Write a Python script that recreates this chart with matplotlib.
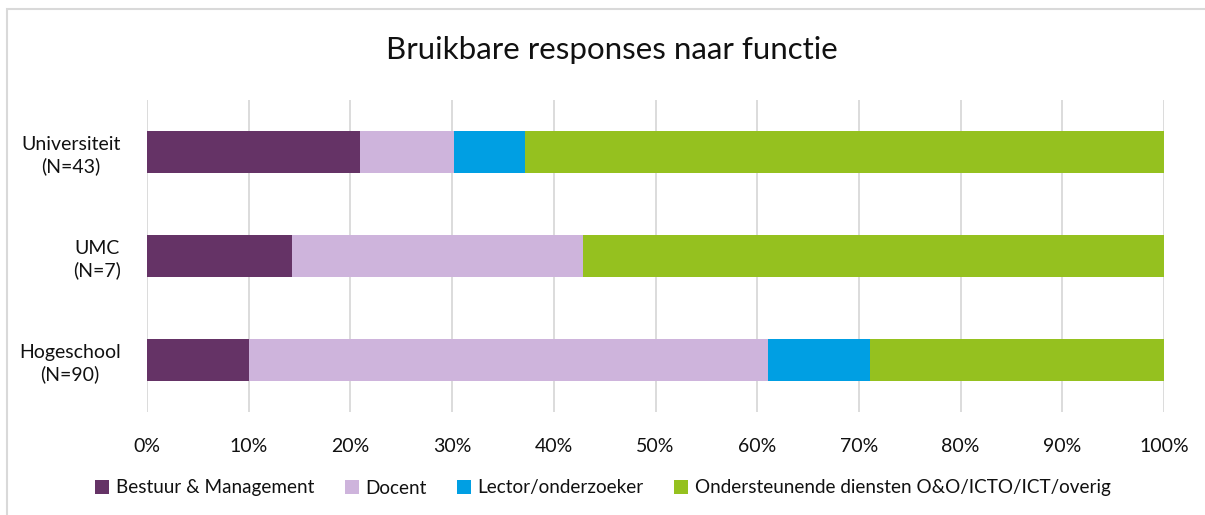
import matplotlib
matplotlib.use("Agg")
import matplotlib.pyplot as plt
from matplotlib.patches import Rectangle
import numpy as np

plt.rcParams['font.family'] = ['Lato', 'DejaVu Sans']

categories = ["Universiteit\n(N=43)", "UMC\n(N=7)", "Hogeschool\n(N=90)"]
series_names = ["Bestuur & Management", "Docent", "Lector/onderzoeker",
                "Ondersteunende diensten O&O/ICTO/ICT/overig"]
bestuur = [20.9, 14.3, 10.0]
docent = [9.3, 28.6, 51.1]
lector = [7.0, 0.0, 10.0]
ondersteunend = [62.8, 57.1, 28.9]
colors = ["#653366", "#CEB4DC", "#009FE3", "#95C11F"]
xticks = [0, 10, 20, 30, 40, 50, 60, 70, 80, 90, 100]

W, H = 1205, 515
fig = plt.figure(figsize=(W / 100, H / 100), dpi=100)
ax = fig.add_axes([147 / W, 1 - 412 / H, (1164 - 147) / W, (412 - 100) / H])

y = np.arange(len(categories))
left = np.zeros(len(categories))
for vals, name, c in zip([bestuur, docent, lector, ondersteunend], series_names, colors):
    v = np.array(vals)
    ax.barh(y, v, left=left, height=0.4, color=c, label=name)
    left += v

ax.set_xlim(0, 100)
ax.set_ylim(2.5, -0.5)
ax.set_yticks(y)
ax.set_yticklabels(categories, multialignment='center', fontsize=14, color='#111111',
                   linespacing=1.25)
ax.set_xticks(xticks)
ax.set_xticklabels([f"{t}%" for t in xticks], fontsize=14, color='#111111')
ax.tick_params(axis='both', length=0)
ax.tick_params(axis='x', pad=19)
ax.tick_params(axis='y', pad=19)
ax.xaxis.grid(True, color='#d9d9d9', linewidth=1.3)
ax.set_axisbelow(True)
for s in ax.spines.values():
    s.set_visible(False)

fig.text(612 / W, 1 - 50 / H, "Bruikbare responses naar functie", ha='center', va='center',
         fontsize=22.5, color='#111111')

leg = fig.legend(loc='center', bbox_to_anchor=(603 / W, 1 - 488 / H), ncol=4, frameon=False,
                 fontsize=13.6, handlelength=0.75, handleheight=0.75, handletextpad=0.35,
                 columnspacing=1.6)
for t in leg.get_texts():
    t.set_color('#111111')

fig.patches.append(Rectangle((7.5 / W, -0.1), 1.2, 1 - 9.5 / H + 0.1, transform=fig.transFigure,
                             fill=False, edgecolor='#d9d9d9', linewidth=1.5))

fig.savefig("out.png", dpi=100)
